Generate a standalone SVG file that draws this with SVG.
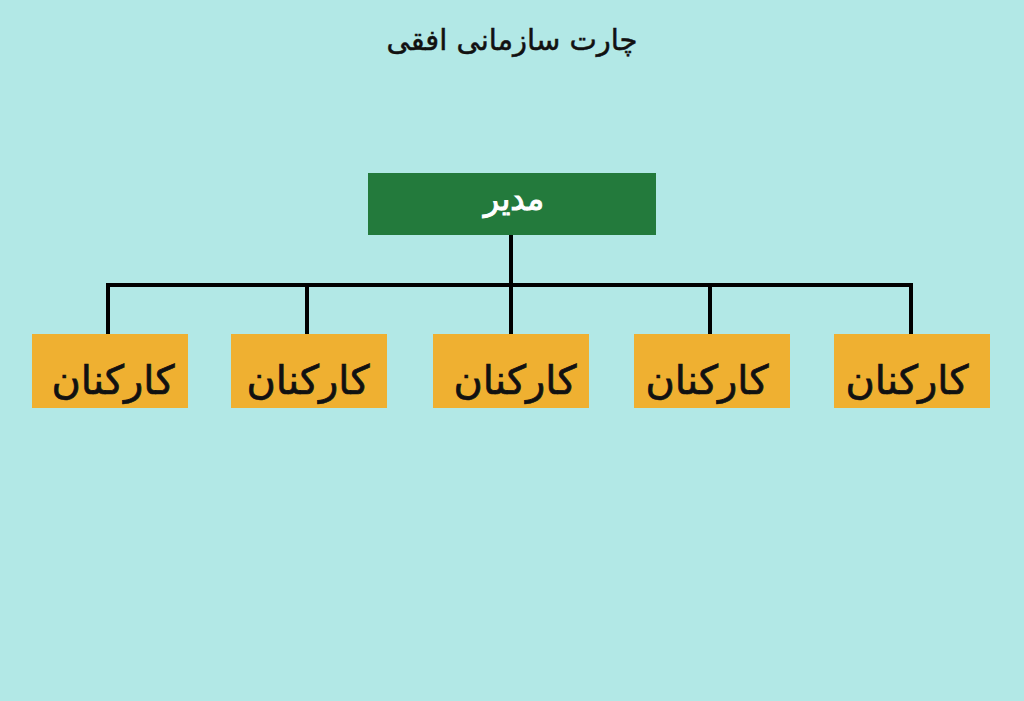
<svg xmlns="http://www.w3.org/2000/svg" width="1024" height="701" viewBox="0 0 1024 701">
<style>
text{font-family:"DejaVu Sans","Liberation Sans",sans-serif;text-anchor:middle;direction:rtl}
.emp rect{fill:#efb031}
.emp text{fill:#111;stroke:#111;stroke-width:0.7;font-size:40px}
.conn path{fill:none;stroke:#000;stroke-width:4}
</style>
<rect width="1024" height="701" fill="#b2e8e6"/>
<text x="512" y="50" font-size="29" fill="#111" stroke="#111" stroke-width="0.5">چارت سازمانی افقی</text>
<g class="conn">
<path d="M511 235V285M108 334V285H911V334M307 285V334M511 285V334M710 285V334"/>
</g>
<g id="manager"><rect x="368" y="173" width="288" height="62" fill="#237a3c"/><text x="514" y="210" font-size="32" fill="#fff" stroke="#fff" stroke-width="1">مدیر</text></g>
<g id="emp1" class="emp"><rect x="32" y="334" width="156" height="74"/><text x="113" y="394">کارکنان</text></g>
<g id="emp2" class="emp"><rect x="231" y="334" width="156" height="74"/><text x="308" y="394">کارکنان</text></g>
<g id="emp3" class="emp"><rect x="433" y="334" width="156" height="74"/><text x="515" y="394">کارکنان</text></g>
<g id="emp4" class="emp"><rect x="634" y="334" width="156" height="74"/><text x="707" y="394">کارکنان</text></g>
<g id="emp5" class="emp"><rect x="834" y="334" width="156" height="74"/><text x="907" y="394">کارکنان</text></g>
</svg>
